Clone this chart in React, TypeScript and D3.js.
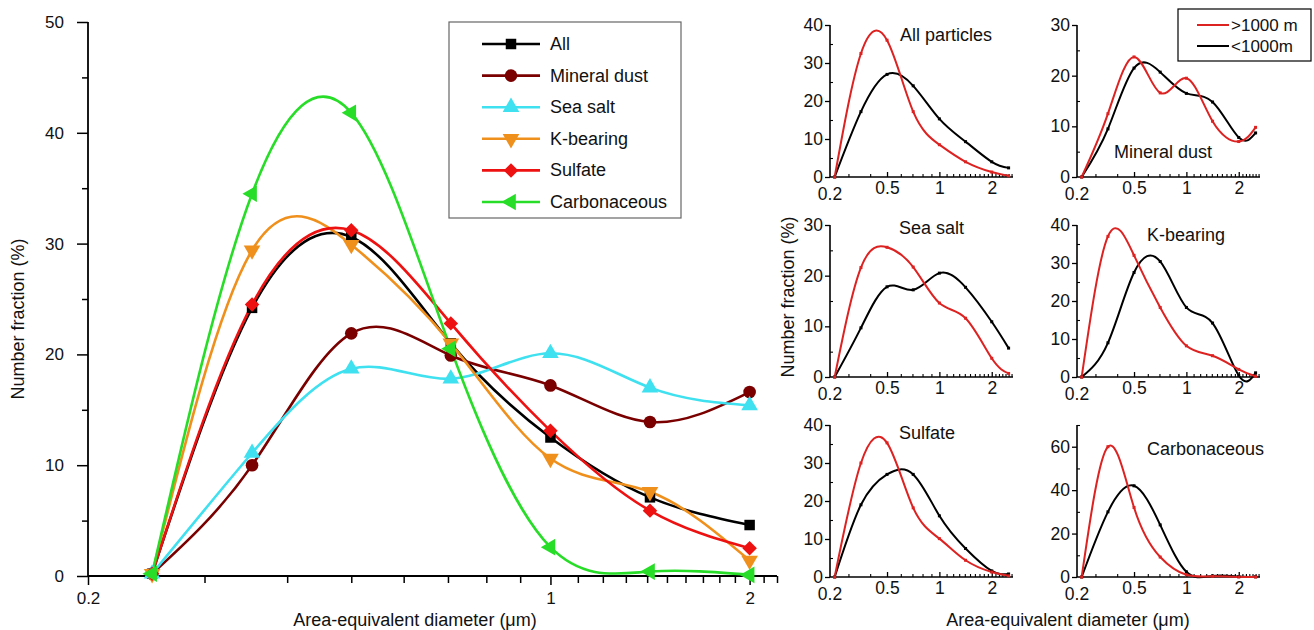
import { useEffect, useRef } from "react";
import * as d3 from "d3";

const FONT = "'Liberation Sans', Arial, Helvetica, sans-serif";

// main chart: bin diameters (µm) and number fractions (%)
const mainX = [0.25, 0.354, 0.5, 0.707, 1, 1.414, 2];
const seriesNames = ["All", "Mineral dust", "Sea salt", "K-bearing", "Sulfate", "Carbonaceous"];
const allVals = [0.2, 24.2, 30.6, 21.0, 12.5, 7.1, 4.6];
const dustVals = [0.2, 10.0, 21.9, 19.9, 17.2, 13.9, 16.6];
const seaSaltVals = [0.2, 11.1, 18.7, 17.8, 20.1, 17.0, 15.4];
const kVals = [0.2, 29.4, 29.9, 21.0, 10.6, 7.6, 1.4];
const sulfateVals = [0.2, 24.5, 31.2, 22.8, 13.1, 5.9, 2.5];
const carbVals = [0.2, 34.5, 41.8, 20.5, 2.6, 0.4, 0.1];
const mainYTicks = [0, 10, 20, 30, 40, 50];
const mainYMinor = [5, 15, 25, 35, 45];
const mainXTicks = [0.2, 1, 2];
const mainXMinor = [0.3, 0.4, 0.5, 0.6, 0.7, 0.8, 0.9, 1.1, 1.2, 1.3, 1.4, 1.5, 1.6, 1.7, 1.8, 1.9, 2.1, 2.2];

// small panels: >1000 m (red) and <1000 m (black)
const smallX = [0.25, 0.354, 0.5, 0.707, 1, 1.414, 2, 2.5];
const panelNames = ["All particles", "Mineral dust", "Sea salt", "K-bearing", "Sulfate", "Carbonaceous"];
const highAll = [0, 32.5, 36, 17.2, 8.5, 4, 1.3, 0.3];
const lowAll = [0, 17.2, 27, 24, 15.3, 9.3, 4, 2.4];
const highDust = [0, 12.5, 23.7, 16.6, 19.5, 11, 7, 9.8];
const lowDust = [0, 9.5, 21.5, 20.7, 16.5, 14.8, 7.8, 8.7];
const highSeaSalt = [0, 21.6, 25.6, 21.7, 14.6, 11.6, 3.7, 0.7];
const lowSeaSalt = [0, 9.7, 17.8, 17.2, 20.5, 17.7, 10.9, 5.7];
const highK = [0, 37, 32, 18.3, 8.2, 5.6, 2, 0.2];
const lowK = [0, 9, 27.5, 30.4, 18.3, 14.2, 0.4, 1.1];
const highSulfate = [0, 30, 35.3, 18.2, 10.1, 4.4, 1.3, 0.3];
const lowSulfate = [0, 19, 27, 27, 16.1, 7.5, 1.6, 0.8];
const highCarb = [0, 60, 32, 9.2, 1, 0.3, 0, 0];
const lowCarb = [0, 30, 42, 24, 2.4, 0.5, 0.2, 0.1];
const panelYMax = [40, 30, 30, 40, 40, 70];
const panelYStep = [10, 10, 10, 10, 10, 20];
const smallXTicks = [0.5, 1, 2];
const smallXMinor = [0.3, 0.4, 0.6, 0.7, 0.8, 0.9, 1.1, 1.2, 1.3, 1.4, 1.5, 1.6, 1.7, 1.8, 1.9, 2.1, 2.2, 2.3, 2.4, 2.5, 2.6];
const altNames = [">1000 m", "<1000m"];

const mainSeries = [allVals, dustVals, seaSaltVals, kVals, sulfateVals, carbVals];
const highSeries = [highAll, highDust, highSeaSalt, highK, highSulfate, highCarb];
const lowSeries = [lowAll, lowDust, lowSeaSalt, lowK, lowSulfate, lowCarb];

const colors = ["#000000", "#7a0000", "#3fe0ef", "#f0901c", "#ee1111", "#27dd27"];
const symbols = [
  { type: d3.symbolSquare, rot: 0, size: 110 },
  { type: d3.symbolCircle, rot: 0, size: 125 },
  { type: d3.symbolTriangle, rot: 0, size: 120 },
  { type: d3.symbolTriangle, rot: 180, size: 120 },
  { type: d3.symbolSquare, rot: 45, size: 105 },
  { type: d3.symbolTriangle, rot: -90, size: 120 },
];
const RED = "#dd2222";

function Axis({ orient, scale, values, size, padding, format, x = 0, y = 0, fontSize = 17, width = 1.5 }: any) {
  const ref = useRef<SVGGElement>(null);
  useEffect(() => {
    const g = d3.select(ref.current);
    g.selectAll("*").remove();
    const ax = (orient === "bottom" ? d3.axisBottom(scale) : d3.axisLeft(scale))
      .tickValues(values)
      .tickSize(size)
      .tickSizeOuter(0)
      .tickPadding(padding)
      .tickFormat(format || (() => ""));
    g.call(ax as any);
    g.select(".domain").remove();
    g.selectAll("line").attr("stroke", "#000").attr("stroke-width", width);
    g.selectAll("text").attr("font-size", fontSize).attr("font-family", FONT).attr("fill", "#111");
  });
  return <g ref={ref} transform={`translate(${x},${y})`} />;
}

function MainChart() {
  const left = 88, right = 777, top = 22, bottom = 576;
  const x = d3.scaleLog().domain([0.2, 2.2]).range([left, right]);
  const y = d3.scaleLinear().domain([0, 50]).range([bottom, top]);
  const line = d3.line<number>().x((_, i) => x(mainX[i])).y((d) => y(d)).curve(d3.curveNatural);
  const fmt = (d: any) => String(d);
  return (
    <g>
      <line x1={left} x2={left} y1={bottom} y2={top} stroke="#000" strokeWidth={1.8} />
      <line x1={left} x2={right} y1={bottom} y2={bottom} stroke="#000" strokeWidth={1.8} />
      <Axis orient="left" scale={y} values={mainYTicks} size={11} padding={13} format={fmt} x={left} />
      <Axis orient="left" scale={y} values={mainYMinor} size={6} padding={0} x={left} />
      <Axis orient="bottom" scale={x} values={mainXTicks} size={9} padding={7} format={fmt} y={bottom} />
      <Axis orient="bottom" scale={x} values={mainXMinor} size={7} padding={0} y={bottom} />
      {mainSeries.map((vals, s) => (
        <path key={s} d={line(vals) || ""} fill="none" stroke={colors[s]} strokeWidth={2.6} />
      ))}
      {mainSeries.map((vals, s) =>
        vals.map((v, i) => (
          <path
            key={`${s}-${i}`}
            d={d3.symbol().type(symbols[s].type).size(symbols[s].size)() || ""}
            transform={`translate(${x(mainX[i])},${y(v)}) rotate(${symbols[s].rot})`}
            fill={colors[s]}
          />
        ))
      )}
      <text transform={`translate(24,${(top + bottom) / 2 + 20}) rotate(-90)`} textAnchor="middle"
        fontSize={18} fontFamily={FONT} fill="#111">Number fraction (%)</text>
      <text x={415} y={626} textAnchor="middle" fontSize={18} fontFamily={FONT} fill="#111">
        Area-equivalent diameter (μm)
      </text>
      <rect x={449} y={22} width={232} height={196} fill="#fff" stroke="#666" strokeWidth={1.2} />
      {seriesNames.map((name, s) => {
        const ly = 44 + s * 31.6;
        return (
          <g key={name}>
            <line x1={482} x2={540} y1={ly} y2={ly} stroke={colors[s]} strokeWidth={2.6} />
            <path d={d3.symbol().type(symbols[s].type).size(symbols[s].size)() || ""}
              transform={`translate(511,${ly}) rotate(${symbols[s].rot})`} fill={colors[s]} />
            <text x={550} y={ly + 6} fontSize={18} fontFamily={FONT} fill="#111">{name}</text>
          </g>
        );
      })}
    </g>
  );
}

const panelOrigins = [[830, 177], [1077, 177], [830, 377], [1077, 377], [830, 577], [1077, 577]];
const panelLabelPos = [[70, -136], [37, -19], [69, -143], [70, -136], [69, -138], [70, -122]];

function Panel({ k }: { k: number }) {
  const [ox, oy] = panelOrigins[k];
  const w = 183, h = 152;
  const x = d3.scaleLog().domain([0.235, 2.65]).range([0, w]);
  const y = d3.scaleLinear().domain([0, panelYMax[k]]).range([0, -h]);
  const step = panelYStep[k];
  const yTicks = d3.range(0, panelYMax[k] + 0.01, step).filter((v) => v <= panelYMax[k] - (k === 5 ? 5 : 0));
  const yMinor = d3.range(step / 2, panelYMax[k] + 0.01, step / 2).filter((v) => !yTicks.includes(v));
  const line = d3.line<number>().x((_, i) => x(smallX[i])).y((d) => y(d)).curve(d3.curveNatural);
  const xFmt = (d: any) => String(d);
  const [lx, ly] = panelLabelPos[k];
  return (
    <g transform={`translate(${ox},${oy})`}>
      <line x1={0} x2={0} y1={0} y2={y(panelYMax[k])} stroke="#000" strokeWidth={1.6} />
      <line x1={0} x2={w} y1={0} y2={0} stroke="#000" strokeWidth={1.6} />
      <Axis orient="left" scale={y} values={yTicks} size={5} padding={2} format={(d: any) => String(d)} fontSize={17.5} width={1.3} />
      <Axis orient="left" scale={y} values={yMinor} size={-3} padding={0} width={1.1} />
      <Axis orient="bottom" scale={x} values={smallXTicks} size={-5} padding={5} format={xFmt} fontSize={17.5} width={1.3} />
      <Axis orient="bottom" scale={x} values={smallXMinor} size={-3} padding={0} width={1.1} />
      <text x={0} y={23} textAnchor="middle" fontSize={17.5} fontFamily={FONT} fill="#111">0.2</text>
      <path d={line(lowSeries[k]) || ""} fill="none" stroke="#000" strokeWidth={2} />
      <path d={line(highSeries[k]) || ""} fill="none" stroke={RED} strokeWidth={2} />
      {lowSeries[k].map((v, i) => (
        <rect key={`l${i}`} x={x(smallX[i]) - 1.5} y={y(v) - 1.5} width={3} height={3} fill="#000" />
      ))}
      {highSeries[k].map((v, i) => (
        <rect key={`h${i}`} x={x(smallX[i]) - 1.5} y={y(v) - 1.5} width={3} height={3} fill={RED} />
      ))}
      <text x={lx} y={ly} fontSize={18} fontFamily={FONT} fill="#111">{panelNames[k]}</text>
    </g>
  );
}

function Panels() {
  return (
    <g>
      {panelNames.map((_, k) => <Panel key={k} k={k} />)}
      <text transform="translate(794,297) rotate(-90)" textAnchor="middle" fontSize={18} fontFamily={FONT} fill="#111">
        Number fraction (%)
      </text>
      <text x={1068} y={626} textAnchor="middle" fontSize={18} fontFamily={FONT} fill="#111">
        Area-equivalent diameter (μm)
      </text>
      <rect x={1178} y={9} width={133} height={52} fill="#fff" stroke="#000" strokeWidth={1.2} />
      {altNames.map((name, i) => (
        <g key={name}>
          <line x1={1197} x2={1229} y1={25 + i * 21} y2={25 + i * 21} stroke={i === 0 ? RED : "#000"} strokeWidth={2} />
          <text x={1231} y={31 + i * 21} fontSize={17} fontFamily={FONT} fill="#111">{name}</text>
        </g>
      ))}
    </g>
  );
}

export default function App() {
  return (
    <svg width={1314} height={630} style={{ position: "absolute", left: 0, top: 0, background: "#fff" }}>
      <rect width={1314} height={630} fill="#fff" />
      <MainChart />
      <Panels />
    </svg>
  );
}
